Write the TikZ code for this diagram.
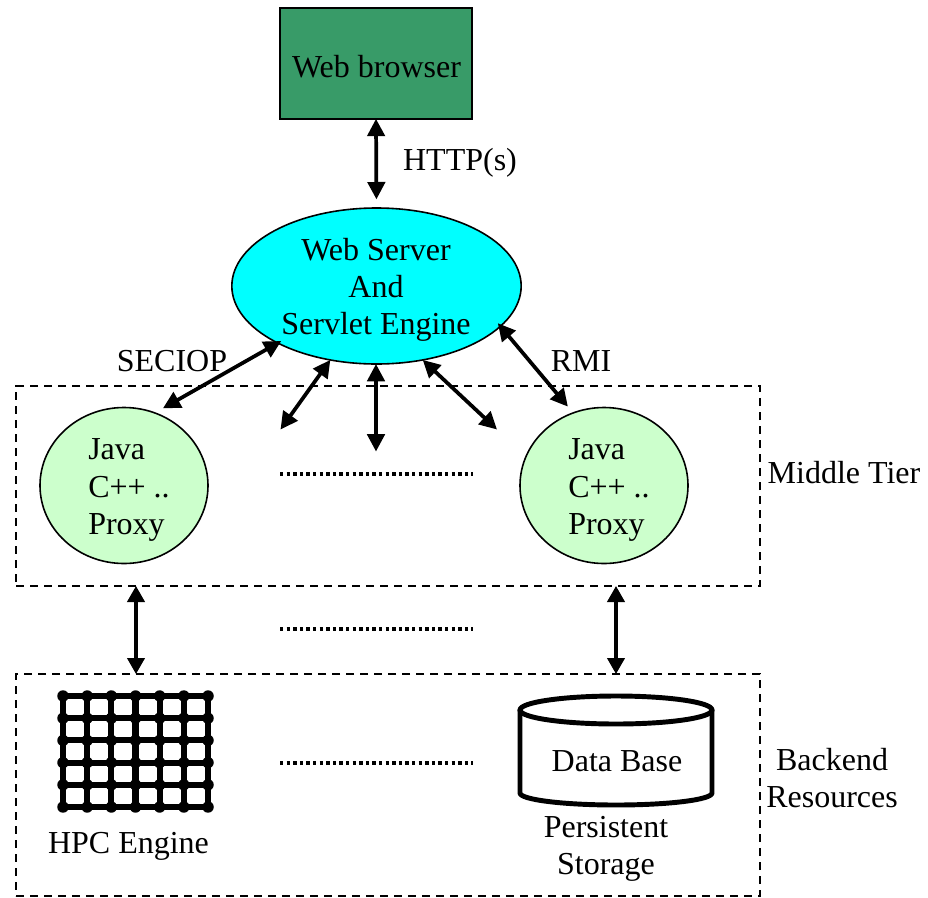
\documentclass[tikz,border=0pt]{standalone}
\usepackage{fontspec}
\setmainfont{Liberation Serif}
\usetikzlibrary{shapes.geometric,arrows.meta}
\tikzset{
  lbl/.style={inner sep=0pt,align=center,font=\fontsize{24}{27.8}\selectfont},
  tier/.style={draw,dash pattern=on 6.3pt off 4.2pt,line width=1.2pt,inner sep=0pt,anchor=north west,outer sep=0pt},
  thick arrow/.style={{Triangle[length=13pt,width=13pt]}-{Triangle[length=13pt,width=13pt]},line width=2.8pt},
  thin arrow/.style={{Triangle[length=12pt,width=13pt]}-{Triangle[length=12pt,width=13pt]},line width=2.3pt},
  proxy/.style={draw,ellipse,line width=1.2pt,fill=proxyg,minimum width=126pt,minimum height=117pt,inner sep=0pt,outer sep=0pt},
  dots/.style={line width=2.5pt,dash pattern=on 2.5pt off 2.45pt},
  meshline/.style={line width=4.6pt},
}
\definecolor{browserg}{HTML}{389B68}
\definecolor{proxyg}{HTML}{CCFFCC}
\definecolor{servercyan}{HTML}{00FFFF}
\begin{document}
\begin{tikzpicture}[x=0.75pt,y=-0.75pt]
\useasboundingbox (0,0) rectangle (928,897);
% tiers
\node[tier,minimum width=558pt,minimum height=150pt] (midbox) at (16,386) {};
\node[tier,minimum width=558pt,minimum height=166.5pt] (backbox) at (16,674) {};
% top
\node[draw,line width=1.2pt,fill=browserg,minimum width=144pt,minimum height=83pt,inner sep=0pt,outer sep=0pt] (browser) at (376,63.5) {};
\node[lbl] (browsertext) at (376.5,66.5) {Web browser};
\node[draw,ellipse,line width=1.2pt,fill=servercyan,minimum width=217pt,minimum height=117pt,inner sep=0pt,outer sep=0pt] (server) at (376.5,286) {};
\node[lbl] (servertext) at (376,289.5) {Web Server\\And\\Servlet Engine};
\node[proxy] (p1) at (124,485.5) {};
\node[proxy] (p2) at (604,485.5) {};
\node[lbl,align=left,anchor=west] (p1text) at (88,490) {Java\\C++ ..\\Proxy};
\node[lbl,align=left,anchor=west] (p2text) at (568,490) {Java\\C++ ..\\Proxy};
% labels
\node[lbl] (http) at (460,162.5) {HTTP(s)};
\node[lbl] (seciop) at (172,361.5) {SECIOP};
\node[lbl] (rmi) at (581,361.5) {RMI};
\node[lbl] (midlab) at (844,472.5) {Middle Tier};
\node[lbl] (backlab) at (832,778.5) {Backend\\Resources};
\node[lbl] (hpclab) at (128.5,846.5) {HPC Engine};
\node[lbl] (dblab) at (617,761.5) {Data Base};
\node[lbl] (pslab) at (606,848.5) {Persistent\\Storage};
% mesh
\coordinate (gridc) at (136,751.5);
\foreach \i in {0,...,6} {
  \draw[meshline] (63+\i*24.17,696) -- (63+\i*24.17,807);
}
\foreach \j in {0,...,5} {
  \draw[meshline] (63,696+\j*22.2) -- (208,696+\j*22.2);
}
\foreach \i in {0,...,6} \foreach \j in {0,...,5} {
  \fill (63+\i*24.17,696+\j*22.2) circle (4.3pt);
}
% database
\coordinate (dbc) at (616,751);
\draw[line width=3.7pt,line join=round] (520,710) -- (520,793) arc[start angle=180,end angle=0,x radius=96,y radius=12] -- (712,710);
\draw[line width=3.7pt] (616,710) ellipse[x radius=96,y radius=14];
% dotted
\coordinate (d1a) at (280,474); \coordinate (d1b) at (473,474);
\coordinate (d2a) at (280,629); \coordinate (d2b) at (473,629);
\coordinate (d3a) at (280,763); \coordinate (d3b) at (473,763);
\draw[dots] (d1a) -- (d1b);
\draw[dots] (d2a) -- (d2b);
\draw[dots] (d3a) -- (d3b);
% connectors
\coordinate (fl) at (280.5,429.5);
\coordinate (fc) at (376,451.5);
\coordinate (fr) at (497,429.5);
\draw[thick arrow,shorten >=6.5pt] (browser.south) -- (server.north);
\draw[thick arrow,shorten <=-3pt,shorten >=7pt] (server.210) -- (p1.67.7);
\draw[thick arrow,shorten <=-3pt,shorten >=6.2pt] (server.-18.5) -- (p2.113.6);
\draw[thick arrow] (server.238) -- (fl);
\draw[thick arrow] (server.south -| fc) -- (fc);
\draw[thick arrow] (server.302) -- (fr);
\draw[thin arrow] (midbox.south -| gridc) -- (backbox.north -| gridc);
\draw[thin arrow] (midbox.south -| dbc) -- (backbox.north -| dbc);
\end{tikzpicture}
\end{document}
